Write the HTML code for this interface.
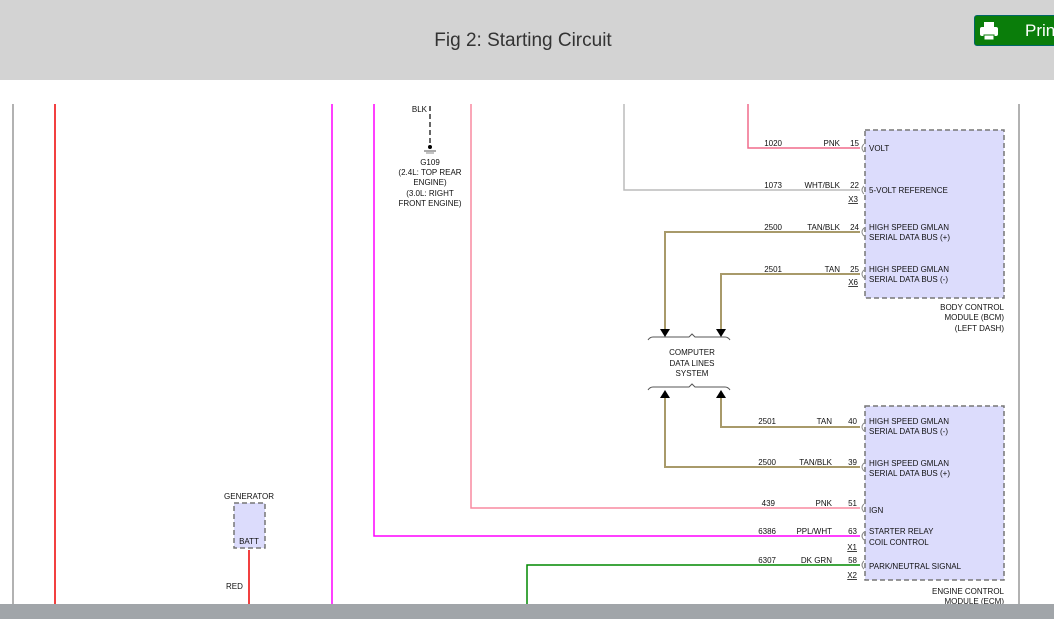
<!DOCTYPE html>
<html><head><meta charset="utf-8"><style>
html,body{margin:0;padding:0;width:1054px;height:619px;overflow:hidden;background:#fff;font-family:"Liberation Sans",sans-serif}
#hdr{position:absolute;left:0;top:0;width:1054px;height:80px;background:#d3d3d3}
#title{position:absolute;left:0;width:1046px;top:30px;text-align:center;font-size:19px;color:#333;font-family:"Liberation Sans Narrow","Liberation Sans",sans-serif}
#print{position:absolute;left:974px;top:15px;width:90px;height:29px;background:#0a7d0a;border-radius:3px;border:1px solid #066;color:#fff;font-size:17px;line-height:29px}
#bot{position:absolute;left:0;top:604px;width:1054px;height:15px;background:#a1a5a9}
svg{position:absolute;left:0;top:0}
text{font-family:"Liberation Sans",sans-serif;font-size:8px;fill:#111}
</style></head><body>
<div id="hdr"><div id="title">Fig 2: Starting Circuit</div>
<div id="print"><svg width="26" height="29" style="position:relative;left:0;top:0;display:inline-block;vertical-align:top"><rect x="9" y="6" width="10" height="6" fill="#fff"/><rect x="5" y="11" width="18" height="9" rx="2" fill="#fff"/><rect x="9" y="19" width="10" height="5" fill="#fff" stroke="#0a7d0a"/></svg><span style="position:absolute;left:50px;top:0">Print</span></div></div>
<svg width="1054" height="619">
<g fill="none" stroke-width="1.5">
<line x1="13" y1="104" x2="13" y2="604" stroke="#999"/>
<line x1="1019" y1="104" x2="1019" y2="604" stroke="#999"/>
<line x1="55" y1="104" x2="55" y2="604" stroke="#e00"/>
<line x1="332" y1="104" x2="332" y2="604" stroke="#f0f"/>
<polyline points="374,104 374,536 860,536" stroke="#f0f"/>
<polyline points="471,104 471,508 860,508" stroke="#f88aa0"/>
<polyline points="624,104 624,190 860,190" stroke="#bbb"/>
<polyline points="748,104 748,148 860,148" stroke="#f06c8c"/>
<polyline points="665,330 665,232 860,232" stroke="#a89a6a" stroke-width="2"/>
<polyline points="721,330 721,274 860,274" stroke="#a89a6a" stroke-width="2"/>
<polyline points="721,398 721,427 860,427" stroke="#a89a6a" stroke-width="2"/>
<polyline points="665,398 665,467 860,467" stroke="#a89a6a" stroke-width="2"/>
<polyline points="527,604 527,565 860,565" stroke="#080"/>
<line x1="249" y1="550" x2="249" y2="604" stroke="#e00"/>
<line x1="430" y1="106" x2="430" y2="146" stroke="#333" stroke-dasharray="5,3"/>
<path d="M648,340 q2,-3 5,-3 h36 l3,-3 l3,3 h30 q3,0 5,3" stroke="#555" stroke-width="1"/>
<path d="M648,390 q2,-3 5,-3 h36 l3,-3 l3,3 h30 q3,0 5,3" stroke="#555" stroke-width="1"/>
</g>
<g fill="#000">
<polygon points="660,329 670,329 665,337"/><polygon points="716,329 726,329 721,337"/>
<polygon points="660,398 670,398 665,390"/><polygon points="716,398 726,398 721,390"/>
<circle cx="430" cy="147" r="2"/>
</g>
<line x1="424" y1="151" x2="436" y2="151" stroke="#555"/><line x1="426" y1="153" x2="434" y2="153" stroke="#888"/>
<rect x="865" y="130" width="139" height="168" fill="#dcdcfc" stroke="#777" stroke-width="1.5" stroke-dasharray="5,3"/>
<rect x="865" y="406" width="139" height="174" fill="#dcdcfc" stroke="#777" stroke-width="1.5" stroke-dasharray="5,3"/>
<rect x="234" y="503" width="31" height="45" fill="#dcdcfc" stroke="#777" stroke-width="1.5" stroke-dasharray="5,3"/>
<g fill="none" stroke="#888" stroke-width="1">
<path d="M864,144 q-4,4 0,8 M864,186 q-4,4 0,8 M864,228 q-4,4 0,8 M864,270 q-4,4 0,8 M864,423 q-4,4 0,8 M864,463 q-4,4 0,8 M864,504 q-4,4 0,8 M864,532 q-4,4 0,8 M864,561 q-4,4 0,8"/>
</g>
<g text-anchor="end">
<text x="782" y="146">1020</text><text x="840" y="146">PNK</text><text x="859" y="146">15</text>
<text x="782" y="188">1073</text><text x="840" y="188">WHT/BLK</text><text x="859" y="188">22</text>
<text x="782" y="230">2500</text><text x="840" y="230">TAN/BLK</text><text x="859" y="230">24</text>
<text x="782" y="272">2501</text><text x="840" y="272">TAN</text><text x="859" y="272">25</text>
<text x="776" y="424">2501</text><text x="832" y="424">TAN</text><text x="857" y="424">40</text>
<text x="776" y="465">2500</text><text x="832" y="465">TAN/BLK</text><text x="857" y="465">39</text>
<text x="775" y="506">439</text><text x="832" y="506">PNK</text><text x="857" y="506">51</text>
<text x="776" y="534">6386</text><text x="832" y="534">PPL/WHT</text><text x="857" y="534">63</text>
<text x="776" y="563">6307</text><text x="832" y="563">DK GRN</text><text x="857" y="563">58</text>
<text x="858" y="202" text-decoration="underline">X3</text>
<text x="858" y="285" text-decoration="underline">X6</text>
<text x="857" y="550" text-decoration="underline">X1</text>
<text x="857" y="578" text-decoration="underline">X2</text>
<text x="1004" y="310">BODY CONTROL</text><text x="1004" y="320">MODULE (BCM)</text><text x="1004" y="331">(LEFT DASH)</text>
<text x="1004" y="594">ENGINE CONTROL</text><text x="1004" y="604">MODULE (ECM)</text>
<text x="427" y="112">BLK</text>
</g>
<g>
<text x="869" y="151">VOLT</text>
<text x="869" y="193">5-VOLT REFERENCE</text>
<text x="869" y="230">HIGH SPEED GMLAN</text><text x="869" y="240">SERIAL DATA BUS (+)</text>
<text x="869" y="272">HIGH SPEED GMLAN</text><text x="869" y="282">SERIAL DATA BUS (-)</text>
<text x="869" y="424">HIGH SPEED GMLAN</text><text x="869" y="434">SERIAL DATA BUS (-)</text>
<text x="869" y="466">HIGH SPEED GMLAN</text><text x="869" y="476">SERIAL DATA BUS (+)</text>
<text x="869" y="513">IGN</text>
<text x="869" y="534">STARTER RELAY</text><text x="869" y="545">COIL CONTROL</text>
<text x="869" y="569">PARK/NEUTRAL SIGNAL</text>
<text x="226" y="589">RED</text>
</g>
<g text-anchor="middle">
<text x="692" y="355">COMPUTER</text><text x="692" y="366">DATA LINES</text><text x="692" y="376">SYSTEM</text>
<text x="430" y="165">G109</text><text x="430" y="175">(2.4L: TOP REAR</text><text x="430" y="185">ENGINE)</text><text x="430" y="196">(3.0L: RIGHT</text><text x="430" y="206">FRONT ENGINE)</text>
<text x="249" y="499">GENERATOR</text><text x="249" y="544">BATT</text>
</g>
</svg>
<div id="bot"></div>
</body></html>
